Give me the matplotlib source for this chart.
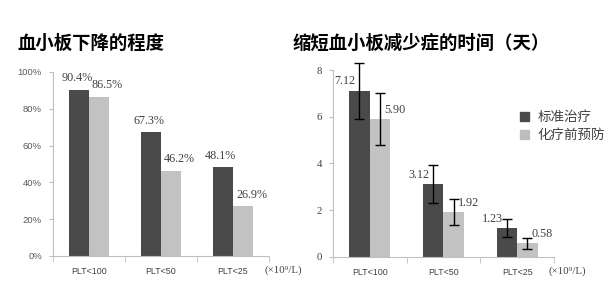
import matplotlib.pyplot as plt
from matplotlib.patches import Patch
import numpy as np

# data
categories = ['PLT<100', 'PLT<50', 'PLT<25']
drop_std = [90.4, 67.3, 48.1]
drop_pre = [86.5, 46.2, 26.9]
days_std = [7.12, 3.12, 1.23]
days_pre = [5.90, 1.92, 0.58]
err_std = [1.2, 0.8, 0.39]
err_pre = [1.1, 0.56, 0.23]
series_names = ['标准治疗', '化疗前预防']

dark = '#4a4a4a'
light = '#c2c2c2'
grid_c = '#bfbfbf'
txt_c = '#404040'
cjk = ['Noto Sans CJK SC', 'DejaVu Sans']
serif = ['Liberation Serif', 'DejaVu Serif']
sans = ['Liberation Sans', 'DejaVu Sans']

fig = plt.figure(figsize=(6.13, 2.94), dpi=100)
ax1 = fig.add_axes([0.0865, 0.1293, 0.3524, 0.6259])
ax2 = fig.add_axes([0.5432, 0.1259, 0.3605, 0.636])

x = np.arange(len(categories))
w = 0.28


def style_axis(ax):
    for s in ['top', 'right']:
        ax.spines[s].set_visible(False)
    for s in ['left', 'bottom']:
        ax.spines[s].set_color(grid_c)
        ax.spines[s].set_linewidth(0.8)
    ax.set_xlim(-0.5, 2.5)
    ax.set_xticks(x)
    ax.set_xticklabels(categories, family=sans, fontsize=6.4, color=txt_c)
    ax.set_xticks([-0.5, 0.5, 1.5, 2.5], minor=True)
    ax.tick_params(axis='x', which='major', length=0, pad=8)
    ax.tick_params(axis='x', which='minor', length=4, color=grid_c)
    ax.tick_params(axis='y', length=3, color=grid_c, pad=5)


# left chart
ax1.bar(x - w / 2, drop_std, w, color=dark)
ax1.bar(x + w / 2, drop_pre, w, color=light)
ax1.set_ylim(0, 100)
style_axis(ax1)
ax1.set_yticks(np.arange(0, 101, 20))
ax1.set_yticklabels([f'{v}%' for v in range(0, 101, 20)], family=sans,
                    fontsize=6.8, color='#595959')
for i in range(len(categories)):
    ax1.annotate(f'{drop_std[i]:.1f}%', (x[i] - w / 2, drop_std[i]),
                 xytext=(-1.5, 4), textcoords='offset points', ha='center',
                 va='bottom', family=serif, fontsize=8.7, color=txt_c)
    ax1.annotate(f'{drop_pre[i]:.1f}%', (x[i] + w / 2, drop_pre[i]),
                 xytext=(6, 4), textcoords='offset points', ha='center',
                 va='bottom', family=serif, fontsize=8.7, color=txt_c)
ax1.text(0.98, -0.076, '(×10⁹/L)', transform=ax1.transAxes, ha='left',
         va='center', family=serif, fontsize=7.8, color=txt_c)

# right chart
ax2.bar(x - w / 2, days_std, w, color=dark)
ax2.bar(x + w / 2, days_pre, w, color=light)
ax2.errorbar(x - w / 2, days_std, yerr=err_std, fmt='none', ecolor='black',
             elinewidth=1, capsize=3.5, capthick=1, clip_on=False)
ax2.errorbar(x + w / 2, days_pre, yerr=err_pre, fmt='none', ecolor='black',
             elinewidth=1, capsize=3.5, capthick=1, clip_on=False)
ax2.set_ylim(0, 8)
style_axis(ax2)
ax2.set_yticks(np.arange(0, 9, 2))
ax2.set_yticklabels([str(v) for v in range(0, 9, 2)], family=serif,
                    fontsize=7.8, color=txt_c)
for i in range(len(categories)):
    ax2.annotate(f'{days_std[i]:.2f}', (x[i] - w / 2, days_std[i]),
                 xytext=(-3, 2.5), textcoords='offset points', ha='right',
                 va='bottom', family=serif, fontsize=8.7, color=txt_c)
    ax2.annotate(f'{days_pre[i]:.2f}', (x[i] + w / 2, days_pre[i]),
                 xytext=(3, 2.5), textcoords='offset points', ha='left',
                 va='bottom', family=serif, fontsize=8.7, color=txt_c)
ax2.text(0.977, -0.076, '(×10⁹/L)', transform=ax2.transAxes, ha='left',
         va='center', family=serif, fontsize=7.8, color=txt_c)

handles = [Patch(color=dark), Patch(color='#bdbdbd')]
leg = fig.legend(handles, series_names, loc='center left',
                 bbox_to_anchor=(0.828, 0.57), frameon=False,
                 handlelength=0.7, handleheight=0.7, handletextpad=0.6,
                 labelspacing=0.3, prop={'family': cjk, 'size': 9.7})
for t in leg.get_texts():
    t.set_color(txt_c)

# titles
fig.text(0.028, 0.854, '血小板下降的程度', family=cjk, fontsize=13.2,
         fontweight='bold', va='center', ha='left')
fig.text(0.478, 0.854, '缩短血小板减少症的时间（天）', family=cjk,
         fontsize=13.2, fontweight='bold', va='center', ha='left')

fig.savefig('out.png', dpi=100)
